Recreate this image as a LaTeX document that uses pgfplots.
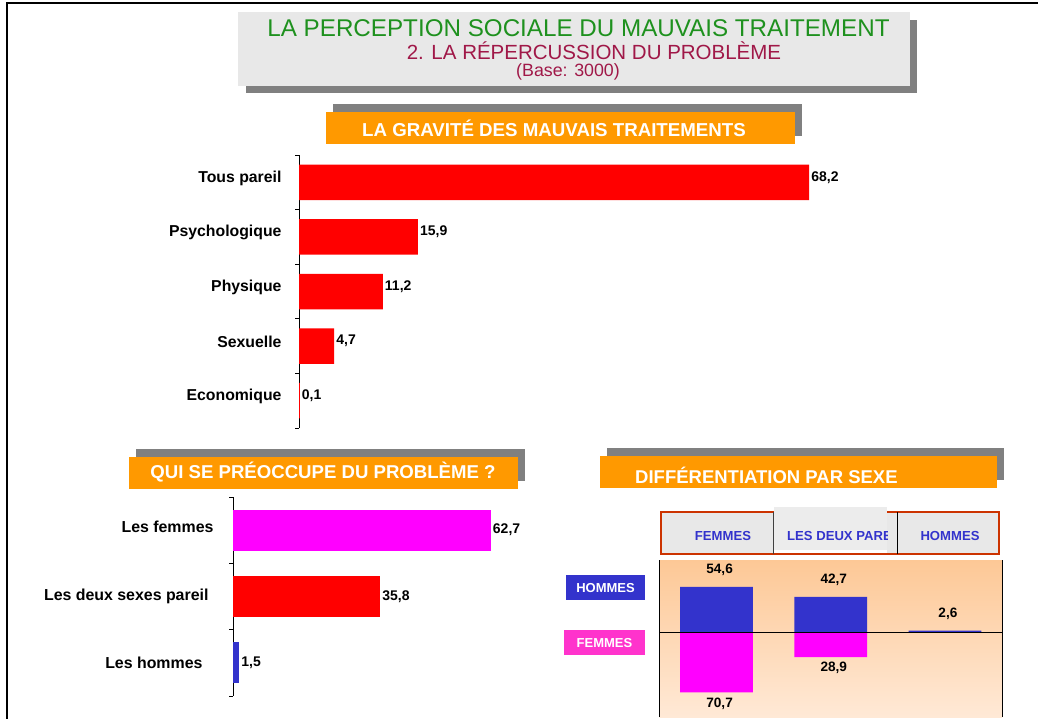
\documentclass[border=0pt]{standalone}
\usepackage{fontspec}
\setmainfont{Liberation Sans}
\usepackage{pgfplots}
\pgfplotsset{compat=1.18}
\definecolor{tgreen}{RGB}{30,145,30}
\definecolor{tcrim}{RGB}{160,24,72}
\definecolor{boxgray}{RGB}{232,232,232}
\definecolor{tabgray}{RGB}{236,236,236}
\definecolor{shadowgray}{RGB}{128,128,128}
\definecolor{orng}{RGB}{255,153,0}
\definecolor{barblue}{RGB}{51,51,204}
\definecolor{barmag}{RGB}{255,0,255}
\definecolor{barred}{RGB}{255,0,0}
\definecolor{tabred}{RGB}{204,51,0}
\definecolor{pinkbox}{RGB}{255,51,204}
\definecolor{peachtop}{RGB}{253,200,150}
\definecolor{peachbot}{RGB}{255,233,214}
\newcommand\fs[1]{\fontsize{#1pt}{#1pt}\selectfont}
\begin{document}
\begin{tikzpicture}[x=1pt,y=1pt]
\path[use as bounding box, fill=white] (0,0) rectangle (1038,-719);
\draw[line width=1.5pt] (7,-719) -- (7,-3) -- (1038,-3);
% title
\fill[shadowgray] (246,-20) rectangle (917,-93);
\fill[boxgray] (238,-12) rectangle (910,-86);
\node[tgreen, font=\fs{24.2}, inner sep=0] at (578.5,-28) {LA PERCEPTION SOCIALE DU MAUVAIS TRAITEMENT};
\node[tcrim, font=\fs{20.5}, inner sep=0] at (594,-51) {2. LA RÉPERCUSSION DU PROBLÈME};
\node[tcrim, font=\fs{17.8}, inner sep=0] at (568,-72) {(Base: 3000)};
% headers
\fill[shadowgray] (333,-104) rectangle (802,-136);
\fill[orng] (326,-112) rectangle (795,-144);
\node[white, font=\bfseries\fs{18.7}, inner sep=0] at (554,-128) {LA GRAVITÉ DES MAUVAIS TRAITEMENTS};
\fill[shadowgray] (136,-449) rectangle (525,-481);
\fill[orng] (129,-457) rectangle (518,-489);
\node[white, font=\bfseries\fs{18.6}, inner sep=0] at (323,-472) {QUI SE PRÉOCCUPE DU PROBLÈME ?};
\fill[shadowgray] (607,-448) rectangle (1004,-480);
\fill[orng] (600,-456) rectangle (997,-488);
\node[white, font=\bfseries\fs{18.5}, inner sep=0, anchor=west] at (635,-475) {DIFFÉRENTIATION PAR SEXE};
% tabs
\draw[tabred, line width=1.5pt, fill=boxgray] (661,-512) rectangle (999,-554);
\fill[tabgray] (774,-507) rectangle (887,-550);
\fill[white] (774,-550) rectangle (887,-552.5);
\draw[darkgray, line width=1pt] (773,-512) -- (773,-554);
\draw[black, line width=1pt] (897,-512) -- (897,-554);
\node[barblue, font=\bfseries\fs{13.1}, inner sep=0] at (723,-536) {FEMMES};
\begin{scope}
\clip (774,-500) rectangle (887,-560);
\node[barblue, font=\bfseries\fs{13.1}, inner sep=0, anchor=west] at (787,-536) {LES DEUX PAREIL};
\end{scope}
\node[barblue, font=\bfseries\fs{13.1}, inner sep=0] at (950,-536) {HOMMES};
% legend boxes
\fill[barblue] (566,-575) rectangle (645,-600);
\node[white, font=\bfseries\fs{13}, inner sep=0] at (605.5,-588) {HOMMES};
\fill[pinkbox] (564,-630) rectangle (645,-655);
\node[white, font=\bfseries\fs{13}, inner sep=0] at (604.5,-643) {FEMMES};

% top chart
\begin{axis}[
  at={(299pt,-155pt)}, anchor=north west,
  scale only axis, width=523.6pt, height=273pt,
  xmin=0, xmax=70, ymin=-0.5, ymax=4.5, y dir=reverse,
  xbar, bar width=35.5pt, bar shift=0pt,
  axis x line=none, axis y line*=left,
  ytick={0,...,4},
  yticklabels={Tous pareil,Psychologique,Physique,Sexuelle,Economique},
  major tick length=0pt,
  minor ytick={-0.5,0.5,1.5,2.5,3.5,4.5}, minor tick length=4pt, tick align=outside,
  yticklabel style={font=\bfseries\fs{15.8}, xshift=-14pt, yshift=4pt},
  axis line style={black, line width=0.8pt},
  minor tick style={black, line width=0.8pt},
  clip=false,
  nodes near coords, point meta=explicit symbolic,
  nodes near coords style={font=\bfseries\fs{14}, anchor=west, inner sep=2pt, yshift=5pt},
]
\addplot[fill=barred, draw=none] coordinates {(68.2,0) [68,2] (15.9,1) [15,9] (11.2,2) [11,2] (4.7,3) [4,7] (0.1,4) [0,1]};
\end{axis}

% bottom-left chart
\begin{axis}[
  at={(233pt,-497pt)}, anchor=north west,
  scale only axis, width=267.2pt, height=199pt,
  xmin=0, xmax=65, ymin=-0.5, ymax=2.5, y dir=reverse,
  xbar, bar width=41pt, bar shift=0pt,
  axis x line=none, axis y line*=left,
  ytick={0,1,2},
  yticklabels={\raisebox{6pt}{Les femmes}\kern-5pt, Les deux sexes pareil, \raisebox{-6pt}{Les hommes}\kern6pt},
  major tick length=0pt,
  minor ytick={-0.5,0.5,1.5,2.5}, minor tick length=4pt, tick align=outside,
  yticklabel style={font=\bfseries\fs{15.9}, xshift=-21pt},
  axis line style={black, line width=0.8pt},
  minor tick style={black, line width=0.8pt},
  clip=false,
  nodes near coords, point meta=explicit symbolic,
  nodes near coords style={font=\bfseries\fs{14}, anchor=west, inner sep=2pt},
]
\addplot[fill=barmag, draw=none] coordinates {(62.7,0) [62,7]};
\addplot[fill=barred, draw=none] coordinates {(35.8,1) [35,8]};
\addplot[fill=barblue, draw=none] coordinates {(1.5,2) [1,5]};
\end{axis}

% bottom-right chart
\begin{axis}[
  at={(659.5pt,-560pt)}, anchor=north west,
  scale only axis, width=342.5pt, height=157pt,
  xmin=-0.5, xmax=2.5, ymin=-100, ymax=86.6,
  ybar, bar width=72.7pt, bar shift=0pt,
  xtick=\empty, ytick=\empty,
  axis line style={draw=none},
  axis background/.style={top color=peachtop, bottom color=peachbot},
  clip=false,
  nodes near coords, point meta=explicit symbolic,
  nodes near coords style={font=\bfseries\fs{13.6}, inner sep=0pt},
]
\addplot[fill=barblue, draw=none, every node near coord/.append style={anchor=center, yshift=17pt, xshift=3pt}]
  coordinates {(0,54.6) [54,6] (1,42.7) [42,7] (2,2.6) [2,6]};
\addplot[fill=barmag, draw=none, every node near coord/.append style={anchor=center, yshift=-11pt, xshift=3pt}]
  coordinates {(0,-70.7) [70,7] (1,-28.9) [28,9]};
\draw[black, line width=1pt] (axis cs:-0.5,0) -- (axis cs:2.5,0);
\draw[black, line width=1pt] (rel axis cs:0,0) -- (rel axis cs:0,1);
\draw[black, line width=1pt] (rel axis cs:1,0) -- (rel axis cs:1,1);
\end{axis}
\end{tikzpicture}
\end{document}
